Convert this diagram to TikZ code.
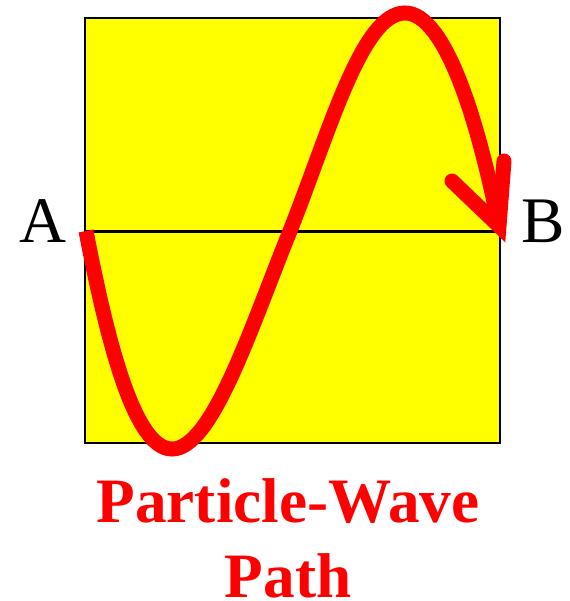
\documentclass[tikz,border=0pt]{standalone}
\usepackage{fontspec}
\setmainfont{Liberation Serif}
\usetikzlibrary{positioning}
\definecolor{boxyellow}{RGB}{255,255,0}
\definecolor{waveRed}{RGB}{255,0,0}

\begin{document}
\begin{tikzpicture}[
  x=0.02cm, y=-0.02cm,
  wave/.style={draw=waveRed, line width=0.3cm},
  endlabel/.style={font=\fontsize{37}{37}\selectfont, inner sep=0pt},
  caption/.style={font=\fontsize{36}{43}\selectfont\bfseries, text=waveRed, inner sep=0pt, anchor=base}
]
% ---- Frame (pixel grid of the reference, y downwards) ----
\useasboundingbox (0,0) rectangle (569,601);
\def\yMid{231}

% ---- Yellow box and middle line ----
\draw[fill=boxyellow, line width=0.04cm] (85,18) rectangle (500,443);
\coordinate (pA) at (85,\yMid);
\coordinate (pB) at (500,\yMid);
\draw[line width=0.06cm] (pA) -- (pB);

% ---- End labels ----
\node[endlabel, anchor=base east] (lblA) at (67,242) {A};
\node[endlabel, anchor=base west] (lblB) at (521,242) {B};

% ---- Wave path ----
\coordinate (wStart) at (86,231);
\coordinate (wLow) at (172,449);
\coordinate (wMid) at (290,231);
\coordinate (wHigh) at (405,13);
\coordinate (wEnd) at (499,226);
\draw[wave, line cap=butt]
  (wStart) .. controls (108,345) and (135,449) .. (wLow)
  .. controls (212,449) and (250,330) .. (wMid)
  .. controls (330,130) and (362,13) .. (wHigh)
  .. controls (445,13) and (478,120) .. (wEnd);

% ---- Arrowhead (open, round ends) ----
\coordinate (tipL) at (452,181);
\coordinate (tipR) at (504,161);
\draw[wave, line cap=round, line join=miter] (tipL) -- (wEnd) -- (tipR);

% ---- Caption ----
\node[caption] (title) at (288,522) {Particle-Wave};
\node[caption] (titlePath) at (288,597) {Path};

\end{tikzpicture}
\end{document}
